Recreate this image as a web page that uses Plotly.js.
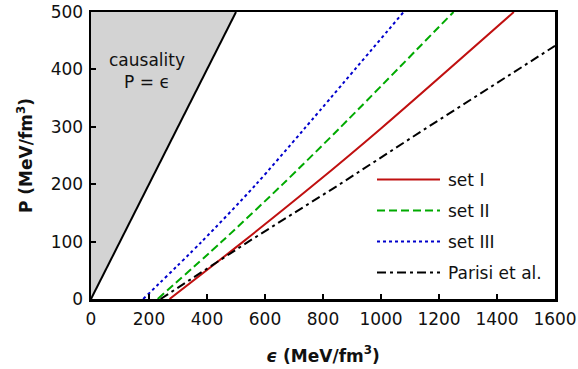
<!DOCTYPE html>
<html>
<head>
<meta charset="utf-8">
<script src="https://cdn.plot.ly/plotly-3.0.1.min.js"></script>
<style>html,body{margin:0;padding:0;background:#fff;}#chart{width:578px;height:369px;}</style>
</head>
<body>
<div id="chart"></div>
<script>
// Data
const seriesNames = ["set I", "set II", "set III", "Parisi et al."];
const setI_E   = [271, 525, 766, 1002, 1458];
const setI_P   = [0, 100, 198, 298, 500];
const setII_E  = [230, 451, 657, 858, 1250];
const setII_P  = [0, 100, 198, 298, 500];
const setIII_E = [180, 382, 566, 738, 1078];
const setIII_P = [0, 100, 198, 298, 500];
const parisi_E = [240, 543, 852, 1157, 1600];
const parisi_P = [0, 100, 198, 298, 441];
const causalE = [0, 500];
const causalP = [0, 500];
const causalFillE = [0, 500, 0, 0];
const causalFillP = [0, 500, 500, 0];
const xTicks = [0, 200, 400, 600, 800, 1000, 1200, 1400, 1600];
const yTicks = [0, 100, 200, 300, 400, 500];

const FONT = "DejaVu Sans, sans-serif";
const FS = 17;
const colors = ["#c01010", "#00aa00", "#0000cc", "#000000"];
const dashes = ["solid", "8px,4px", "3px,3px", "9px,4px,3px,4px"];

const traces = [
  {x: causalFillE, y: causalFillP, mode: "lines", fill: "toself", fillcolor: "#d3d3d3",
   line: {width: 0, color: "rgba(0,0,0,0)"}, showlegend: false, hoverinfo: "skip"},
  {x: causalE, y: causalP, mode: "lines", line: {color: "#000", width: 2}, showlegend: false},
  {x: setI_E, y: setI_P, mode: "lines", name: seriesNames[0], line: {color: colors[0], width: 2, dash: dashes[0], shape: "spline", smoothing: 0.8}},
  {x: setII_E, y: setII_P, mode: "lines", name: seriesNames[1], line: {color: colors[1], width: 2, dash: dashes[1], shape: "spline", smoothing: 0.8}},
  {x: setIII_E, y: setIII_P, mode: "lines", name: seriesNames[2], line: {color: colors[2], width: 2, dash: dashes[2], shape: "spline", smoothing: 0.8}},
  {x: parisi_E, y: parisi_P, mode: "lines", name: seriesNames[3], line: {color: colors[3], width: 2, dash: dashes[3]}}
];

// manual legend (line samples + labels) in paper coords
const L = 91, R = 23, T = 12, B = 70;
const W = 578 - L - R, H = 369 - T - B;
const px2x = p => (p - L) / W;
const py2y = p => 1 - (p - T) / H;
const legendRows = [179.5, 210.5, 241.5, 272.5];
const shapes = [];
const annotations = [];
legendRows.forEach((ry, i) => {
  shapes.push({type: "line", xref: "paper", yref: "paper",
    x0: px2x(377), x1: px2x(440), y0: py2y(ry), y1: py2y(ry),
    line: {color: colors[i], width: 2, dash: dashes[i]}});
  annotations.push({xref: "paper", yref: "paper", x: px2x(446), y: py2y(ry),
    xanchor: "left", yanchor: "middle", showarrow: false, text: seriesNames[i],
    font: {family: FONT, size: FS, color: "#111"}});
});
annotations.push({xref: "x", yref: "y", x: 194, y: 398, showarrow: false,
  text: "causality<br>P = ϵ", align: "center",
  font: {family: FONT, size: FS, color: "#111"}});

const axisCommon = {
  showline: true, linecolor: "#000", linewidth: 2.5, mirror: true,
  ticks: "inside", ticklen: 5, tickwidth: 2, tickcolor: "#000",
  showgrid: false, zeroline: false,
  tickfont: {family: FONT, size: FS, color: "#111"}
};

const layout = {
  width: 578, height: 369,
  margin: {l: L, r: R, t: T, b: B, pad: 0},
  paper_bgcolor: "#fff", plot_bgcolor: "#fff",
  showlegend: false,
  font: {family: FONT, color: "#111"},
  xaxis: Object.assign({}, axisCommon, {
    range: [0, 1600], tickvals: xTicks, ticktext: xTicks.map(String),
    ticklabelstandoff: 3,
    title: {text: "<b><i>ϵ</i> (MeV/fm<sup>3</sup>)</b>", font: {family: FONT, size: FS, color: "#111"}, standoff: 22}
  }),
  yaxis: Object.assign({}, axisCommon, {
    range: [0, 500], tickvals: yTicks, ticktext: yTicks.map(String),
    ticklabelstandoff: 2,
    title: {text: "<b>P (MeV/fm<sup>3</sup>)</b>", font: {family: FONT, size: FS, color: "#111"}, standoff: 14}
  }),
  shapes: shapes,
  annotations: annotations
};

Plotly.newPlot("chart", traces, layout, {staticPlot: true, displayModeBar: false});
</script>
</body>
</html>
